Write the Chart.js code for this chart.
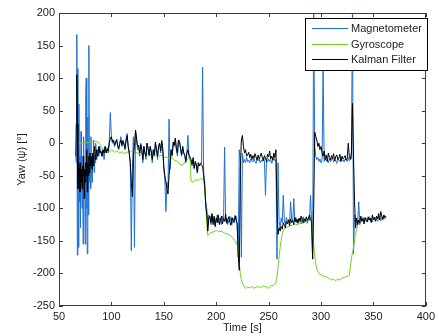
<!DOCTYPE html>
<html>
<head>
<meta charset="utf-8">
<script src="https://cdn.jsdelivr.net/npm/chart.js@4"></script>
<style>
  html, body { margin: 0; padding: 0; background: #fff; }
  canvas { display: block; }
</style>
</head>
<body>
<canvas id="yaw-chart" width="439" height="336"></canvas>
<script>
// sample times shared by magnetometer and kalman filter [s]
const sampleTime = [
  66, 66.5, 67, 67.5, 68, 68.5, 69, 69.5, 70, 70.5,
  71, 71.5, 72, 72.5, 73, 73.5, 74, 74.5, 75, 75.5,
  76, 76.5, 77, 77.5, 78, 78.5, 79, 79.5, 80, 80.5,
  81, 81.5, 82, 82.5, 83, 83.5, 84, 84.5, 85,
  86, 87, 88, 89, 90, 91, 92, 93, 94, 95, 96, 97, 98, 99,
  100, 101, 102, 103, 104, 105, 106, 107, 108, 109,
  110, 111, 112, 113, 114, 115, 116, 117, 118, 119,
  120, 121, 122, 123, 124, 125, 126, 127, 128, 129,
  130, 131, 132, 133, 134, 135, 136, 137, 138, 139,
  140, 141, 142, 143, 144, 145, 146, 147, 148, 149,
  150, 151, 152, 153, 154, 155, 156, 157, 158, 159,
  160, 161, 162, 163, 164, 165, 166, 167, 168, 169,
  170, 171, 172, 173, 174, 175, 176, 177, 178, 179,
  180, 181, 182, 183, 184, 185, 186, 187, 188, 189,
  190, 191, 192, 193, 194, 195, 196, 197, 198, 199,
  200, 201, 202, 203, 204, 205, 206, 207, 208, 209,
  210, 211, 212, 213, 214, 215, 216, 217, 218, 219,
  220, 221, 222, 223, 224, 225, 226, 227, 228, 229,
  230, 231, 232, 233, 234, 235, 236, 237, 238, 239,
  240, 241, 242, 243, 244, 245, 246, 247, 248, 249,
  250, 251, 252, 253, 254, 255, 256, 257, 258, 259,
  260, 261, 262, 263, 264, 265, 266, 267, 268, 269,
  270, 271, 272, 273, 274, 275, 276, 277, 278, 279,
  280, 281, 282, 283, 284, 285, 286, 287, 288, 289,
  290, 291, 292, 293, 294, 295, 296, 297, 298, 299,
  300, 301, 302, 303, 304, 305, 306, 307, 308, 309,
  310, 311, 312, 313, 314, 315, 316, 317, 318, 319,
  320, 321, 322, 323, 324, 325, 326, 327, 328, 329,
  330, 331, 332, 333, 334, 335, 336, 337, 338, 339,
  340, 341, 342, 343, 344, 345, 346, 347, 348, 349,
  350, 351, 352, 353, 354, 355, 356, 357, 358, 359,
  360, 361, 362
];

const magnetometer = [
  -20, -30, 167, -172, 115, -160, 60, -90, -20, -130,
  18, -60, -100, -20, -155, 10, -80, -40, -155, 75,
  100, -100, -170, 40, -110, 150, -60, -20, -70, 10,
  -40, -60, -20, -35, 5, -45, -20, -30, 0,
  -25, -10, -20, -5, -15, -20, -10, -25, -5, -15, -10, -15, 5, 47,
  10, 0, 5, -5, 0, 5, -5, -10, 0, 10,
  -5, 5, 0, -10, 5, 15, -5, -15, -30, -165,
  -40, 10, -160, 20, 5, -10, -5, -20, 0, -10,
  -30, -5, -15, -25, 0, -10, -20, -5, -15, -30,
  -10, -20, 0, -10, -25, -5, 0, -15, 5, -10,
  -40, -55, -105, -60, -70, 37, -40, -10, -20, 0,
  -5, 5, -10, -20, 5, 0, -10, -20, -5, -15,
  -20, -30, -15, 12, -20, -25, -30, -35, -25, -40,
  -30, -35, -45, -30, -35, -30, -32, 117, -45, -60,
  -90, -100, -120, -110, -115, -125, -110, -120, -115, -125,
  -118, -110, -122, -115, -120, -125, -112, -118, -6, -120,
  -115, -125, -118, -112, -120, -125, -115, -120, -118, -112,
  -125, -175, -10, -30, -175, -15, -30, -25, -30, -22,
  -28, -26, -30, -24, -27, -29, -23, -28, -31, -25,
  -27, -24, -30, -26, -28, -22, -27, -80, -26, -29,
  -24, -28, -25, -31, -26, -22, -27, -25, -178, -30,
  -120, -130, -115, -122, -80, -118, -125, -114, -120, -117,
  -123, -90, -116, -121, -85, -119, -114, -122, -117, -120,
  -115, -124, -118, -113, -121, -116, -119, -123, -114, -118,
  -80, -120, -178, 210, -5, -20, -25, -22, -28, -24,
  -30, -26, 123, -28, -23, -27, -25, -30, -24, -28,
  -26, -22, -29, -25, -27, -31, -24, -26, -28, -23,
  -27, -25, -29, -24, -26, -28, -22, -27, -25, -24,
  210, -170, -110, -120, -118, -122, -90, -125, -116, -119,
  -114, -121, -117, -115, -120, -118, -113, -119, -116, -121,
  -114, -118, -115, -117, -120, -113, -116, -119, -114, -117,
  -112, -116, -114
];

const kalman = [
  -20, 30, 105, 30, -70, -30, -50, -40, -75, -30,
  -60, -40, -70, -35, -50, -20, -85, -40, -60, -30,
  -50, -10, -75, -30, -50, -20, -45, -15, -35, -20,
  -30, -40, -15, -25, -35, -10, -5, -20, -25,
  -10, -20, -5, -15, -12, -20, -10, -15, -5, -15, -8, -12, 0, 8,
  10, 2, 5, -3, 2, 6, -4, -8, 0, 5,
  -3, 3, -2, -8, 5, 12, -5, -15, -30, -60,
  -82, -20, -5, 20, 8, -5, -3, -15, -2, -10,
  -25, -5, -15, -20, 0, -8, -18, -5, -12, -25,
  -10, -18, 2, -10, -20, -5, 0, -12, 3, -8,
  -35, -50, -60, -70, -78, -50, -30, -10, -18, 2,
  -3, 8, -8, -15, 5, 3, -8, -18, -5, -15,
  -18, -28, -15, -10, -18, -22, -25, -32, -22, -38,
  -28, -32, -45, -30, -35, -32, -33, -35, -50, -65,
  -95, -110, -135, -115, -112, -122, -108, -125, -112, -128,
  -115, -122, -110, -125, -118, -112, -124, -116, -120, -109,
  -123, -117, -113, -121, -126, -114, -119, -122, -111, -118,
  -124, -170, -195, -40, 5, 12, -5, -15, -10, -20,
  -18, -14, -22, -17, -25, -19, -23, -16, -21, -26,
  -18, -24, -20, -15, -22, -27, -19, -23, -28, -17,
  -21, -12, -24, -20, -26, -15, -22, -10, -100, -140,
  -130, -135, -128, -132, -122, -126, -130, -120, -124, -118,
  -127, -116, -122, -119, -125, -114, -121, -117, -123, -115,
  -120, -112, -118, -122, -116, -120, -113, -119, -115, -110,
  -117, -120, -178, -100, 17, 10, 5, -5, 0, -10,
  -5, -15, -20, -12, -25, -18, -28, -15, -22, -26,
  -19, -24, -16, -27, -21, -18, -25, -23, -17, -28,
  -20, -24, -22, -19, -26, -23, 0, -20, -25, -15,
  61, -20, -90, -130, -115, -125, -118, -122, -112, -120,
  -116, -124, -114, -119, -121, -113, -118, -115, -122, -110,
  -117, -114, -120, -112, -116, -108, -118, -105, -112, -117,
  -110, -114, -112
];

// gyroscope is smooth, so it has its own sparser samples
const gyroTime = [
  66, 70, 75, 80, 85, 88, 90, 93, 95, 98,
  100, 103, 105, 108, 110, 113, 115, 118, 120, 123,
  125, 128, 130, 133, 135, 138, 140, 143, 145, 148,
  150, 153, 155, 158, 160, 163, 165, 168, 170, 173,
  175, 176, 178, 180, 183, 185, 188, 189, 190, 191,
  192, 193, 195, 198, 200, 203, 205, 208, 210, 213,
  215, 218, 220, 221, 222, 223, 224, 226, 228, 230,
  232, 234, 236, 238, 240, 242, 245, 248, 250, 252,
  255, 257, 258, 259, 260, 261, 262, 263, 264, 265,
  268, 270, 273, 275, 278, 280, 283, 285, 288, 290,
  291, 292, 293, 294, 295, 296, 298, 300, 302, 304,
  306, 308, 310, 312, 314, 316, 318, 320, 322, 324,
  326, 327, 328, 329, 330, 331, 332, 333, 334, 335,
  337, 340, 343, 345, 348, 350, 353, 355, 358, 360,
  362
];
const gyroscope = [
  0, 0, 0, 2, 3, 1, -5, -10, -6, -13,
  -10, -14, -12, -15, -13, -16, -14, -12, -14, -13,
  -16, -14, -15, -17, -15, -18, -16, -19, -20, -18,
  -22, -21, -24, -23, -26, -28, -32, -34, -29, -24,
  -20, -58, -60, -56, -57, -54, -56, -70, -95, -125,
  -142, -140, -137, -136, -134, -136, -135, -138, -139, -141,
  -144, -150, -156, -160, -185, -200, -210, -218, -223, -221,
  -222, -220, -223, -221, -220, -222, -219, -221, -223, -219,
  -218, -214, -205, -190, -175, -160, -148, -140, -135, -131,
  -129, -127, -126, -124, -125, -122, -123, -121, -119, -118,
  -121, -135, -155, -172, -185, -193, -200, -202, -204, -205,
  -206, -208, -210, -209, -211, -209, -210, -207, -206, -205,
  -204, -203, -190, -178, -168, -160, -148, -140, -132, -125,
  -120, -118, -117, -116, -115, -114, -115, -113, -114, -113,
  -112
];

const xTicks = [50, 100, 150, 200, 250, 300, 350, 400];
const yTicks = [-250, -200, -150, -100, -50, 0, 50, 100, 150, 200];

const seriesNames = ['Magnetometer', 'Gyroscope', 'Kalman Filter'];
const seriesColors = ['#1f6fd1', '#74cf22', '#000000'];

function toPoints(times, values) {
  return times.map((t, i) => ({ x: t, y: values[i] }));
}

// MATLAB style box with inward ticks on all four sides
const boxPlugin = {
  id: 'box',
  afterDraw(chart) {
    const ctx = chart.ctx;
    const a = chart.chartArea;
    const xs = chart.scales.x, ys = chart.scales.y;
    ctx.save();
    ctx.strokeStyle = '#3c3c3c';
    ctx.lineWidth = 1;
    ctx.beginPath();
    xTicks.forEach(v => {
      const px = Math.round(xs.getPixelForValue(v)) + 0.5;
      ctx.moveTo(px, a.bottom); ctx.lineTo(px, a.bottom - 4);
      ctx.moveTo(px, a.top); ctx.lineTo(px, a.top + 4);
    });
    yTicks.forEach(v => {
      const py = Math.round(ys.getPixelForValue(v)) + 0.5;
      ctx.moveTo(a.left, py); ctx.lineTo(a.left + 4, py);
      ctx.moveTo(a.right, py); ctx.lineTo(a.right - 4, py);
    });
    ctx.stroke();
    ctx.strokeRect(Math.round(a.left) + 0.5, Math.round(a.top) + 0.5,
                   Math.round(a.right - a.left) - 1, Math.round(a.bottom - a.top) - 1);

    // legend
    const lx = 305, ly = 18, lw = 122, lh = 52;
    ctx.fillStyle = '#fff';
    ctx.fillRect(lx, ly, lw, lh);
    ctx.strokeStyle = '#000';
    ctx.strokeRect(lx + 0.5, ly + 0.5, lw, lh);
    ctx.font = '11px "Liberation Sans", Arial, sans-serif';
    ctx.textBaseline = 'middle';
    const rows = [28, 44, 59];
    seriesNames.forEach((name, i) => {
      ctx.strokeStyle = seriesColors[i];
      ctx.beginPath();
      ctx.moveTo(312, rows[i] + 0.5); ctx.lineTo(348, rows[i] + 0.5);
      ctx.stroke();
      ctx.fillStyle = '#222';
      ctx.fillText(name, 351, rows[i] + 1);
    });
    ctx.restore();
  }
};

new Chart(document.getElementById('yaw-chart'), {
  type: 'line',
  data: {
    datasets: [{
        label: seriesNames[0],
        data: toPoints(sampleTime, magnetometer),
        borderColor: seriesColors[0],
        order: 3
      }, {
        label: seriesNames[1],
        data: toPoints(gyroTime, gyroscope),
        borderColor: seriesColors[1],
        order: 2
      }, {
        label: seriesNames[2],
        data: toPoints(sampleTime, kalman),
        borderColor: seriesColors[2],
        order: 1
      }
    ]
  },
  options: {
    responsive: false,
    animation: false,
    devicePixelRatio: 1,
    parsing: false,
    elements: {
      line: { borderWidth: 1, tension: 0, fill: false },
      point: { radius: 0 }
    },
    layout: { padding: { left: 0, right: 7, top: 13, bottom: 0 } },
    plugins: {
      legend: { display: false },
      tooltip: { enabled: false }
    },
    scales: {
      x: {
        type: 'linear',
        min: 50, max: 400,
        afterFit(scale) { scale.height = 30; },
        afterBuildTicks(scale) { scale.ticks = xTicks.map(v => ({ value: v })); },
        grid: { display: false, drawTicks: false },
        border: { display: false },
        ticks: {
          padding: 4, color: '#222', maxRotation: 0,
          font: { family: '"Liberation Sans", Arial, sans-serif', size: 11 }
        },
        title: {
          display: true, text: 'Time [s]', color: '#222',
          padding: { top: 0, bottom: 1 },
          font: { family: '"Liberation Sans", Arial, sans-serif', size: 11 }
        }
      },
      y: {
        type: 'linear',
        min: -250, max: 200,
        afterFit(scale) { scale.width = 59; },
        afterBuildTicks(scale) { scale.ticks = yTicks.map(v => ({ value: v })); },
        grid: { display: false, drawTicks: false },
        border: { display: false },
        ticks: {
          padding: 4, color: '#222',
          font: { family: '"Liberation Sans", Arial, sans-serif', size: 11 }
        },
        title: {
          display: true, text: 'Yaw (ψ) [°]', color: '#222',
          padding: { top: 15, bottom: 0 },
          font: { family: '"Liberation Sans", Arial, sans-serif', size: 11 }
        }
      }
    }
  },
  plugins: [boxPlugin]
});
</script>
</body>
</html>
